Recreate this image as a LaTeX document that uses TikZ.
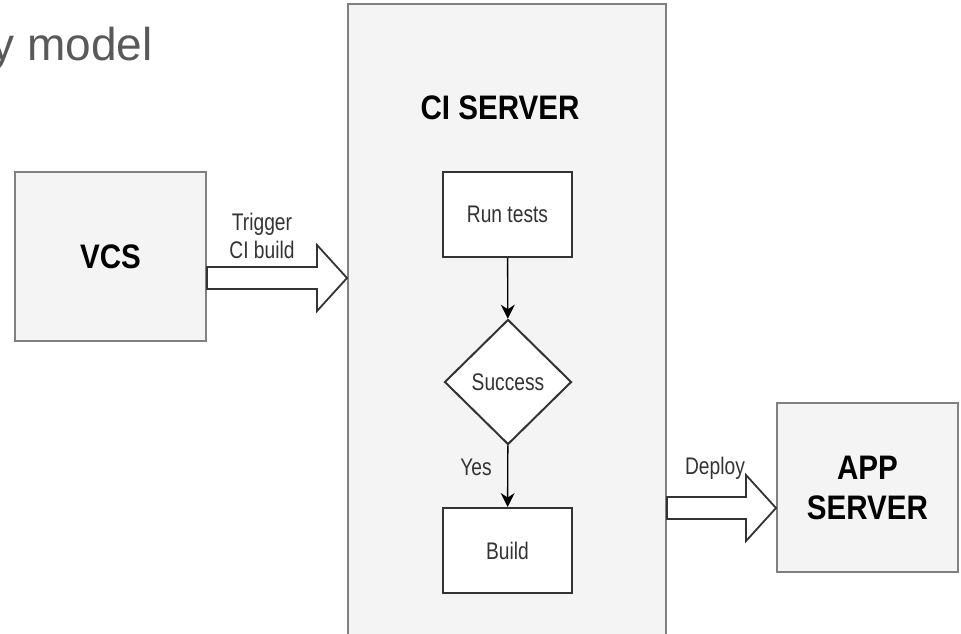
\documentclass[tikz,border=0pt]{standalone}
\usepackage{fontspec}
\setmainfont{Liberation Sans}
\newfontfamily\narrowfont[FakeStretch=0.8]{Liberation Sans}
\newfontfamily\headfont[FakeStretch=0.87]{Liberation Sans}
\usepackage{tikz}
\usetikzlibrary{arrows.meta, shapes.geometric, positioning, calc}
\definecolor{PanelGray}{RGB}{244,244,244}
\definecolor{EdgeGray}{RGB}{128,128,128}
\definecolor{InkGray}{RGB}{51,51,51}
\definecolor{CaptionGray}{RGB}{89,89,89}

\newcommand{\fatarrow}[2]{%
  \draw[fatshape] ($(#1)+(0,-11)$) -- ($(#2)+(-30,-11)$) -- ($(#2)+(-30,-33)$)
    -- (#2) -- ($(#2)+(-30,33)$) -- ($(#2)+(-30,11)$) -- ($(#1)+(0,11)$) -- cycle;}

\begin{document}
\begin{tikzpicture}[x=0.5pt, y=-0.5pt,
    panel/.style={draw=EdgeGray, fill=PanelGray, line width=1pt, inner sep=0pt,
                  font=\headfont\bfseries\fontsize{17}{20}\selectfont, align=center},
    stepbox/.style={draw=InkGray, fill=white, line width=1pt, inner sep=0pt,
                    minimum width=64.5pt, minimum height=42.5pt,
                    font=\narrowfont\fontsize{12}{13.6}\selectfont, text=InkGray},
    decision/.style={diamond, draw=InkGray, fill=white, line width=1pt, inner sep=0pt,
                     minimum width=63.5pt, minimum height=62.5pt,
                     font=\narrowfont\fontsize{12}{13.6}\selectfont, text=InkGray},
    flow/.style={draw=black, line width=0.7pt, -{Stealth[length=7pt, width=7pt]}},
    fatshape/.style={draw=InkGray, fill=white, line width=0.9pt, line join=miter},
    lbl/.style={font=\narrowfont\fontsize{12}{13.6}\selectfont, text=InkGray, align=center, inner sep=0pt}]
  \useasboundingbox (0,0) rectangle (961,633);

  % caption cut off at the left edge
  \node[anchor=base east, inner sep=0pt, text=CaptionGray,
        font=\fontsize{23}{27}\selectfont] (caption) at (153,60) {y model};

  % main blocks
  \node[panel, minimum width=95.5pt, minimum height=84.5pt] (vcs) at (110.5,256.5) {VCS};
  \node[panel, minimum width=159pt, minimum height=323pt] (ci) at (507,327) {};
  \node[inner sep=0pt, font=\headfont\bfseries\fontsize{17}{20}\selectfont] (cititle) at (500,108) {CI SERVER};
  \node[panel, minimum width=90.5pt, minimum height=84.5pt] (app) at (867.5,487.5) {APP\\SERVER};

  % pipeline inside the CI server
  \node[stepbox] (run) at (507.5,214.5) {Run tests};
  \node[decision] (success) at (508,382) {Success};
  \node[stepbox] (build) at (507.5,550.5) {Build};

  \draw[flow] (run) -- (success);
  \draw[flow] (success) -- (build);
  \node[lbl] (yes) at (476,467) {Yes};

  % block arrows
  \coordinate (trigS) at ($(vcs.east)+(0,21.5)$);
  \coordinate (trigE) at (trigS -| ci.west);
  \fatarrow{trigS}{trigE}
  \node[lbl] (trigger) at (262,236) {Trigger\\CI build};

  \coordinate (depS) at ($(ci.east |- app.west)+(0,20.5)$);
  \coordinate (depE) at (depS -| app.west);
  \fatarrow{depS}{depE}
  \node[lbl] (deploy) at (715,468) {Deploy};
\end{tikzpicture}
\end{document}
